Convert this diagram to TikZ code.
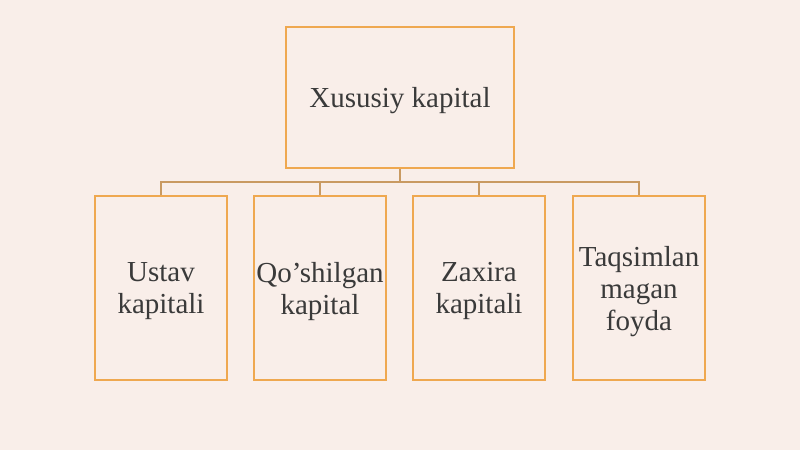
\documentclass[tikz,border=0pt]{standalone}
\usepackage{fontspec}
\setmainfont{Liberation Serif}
\definecolor{bg}{HTML}{F9EEE9}
\definecolor{boxc}{HTML}{EFA850}
\definecolor{linec}{HTML}{C99A62}
\definecolor{txt}{HTML}{3A3A3A}
\tikzset{
  box/.style={draw=boxc, line width=2pt, fill=bg, text=txt, align=center,
    font=\fontsize{29}{32}\selectfont, inner sep=0pt, text depth=0pt},
  topbox/.style={box, minimum width=228pt, minimum height=141pt},
  childbox/.style={box, minimum width=132pt, minimum height=184pt},
  conn/.style={draw=linec, line width=1.8pt}
}
\begin{document}
\begin{tikzpicture}[x=1pt,y=-1pt]
\fill[bg] (0,0) rectangle (800,450);
\useasboundingbox (0,0) rectangle (800,450);
\node[topbox] (top) at (400,97.5) {Xususiy kapital};
\node[childbox] (c1) at (161,288) {Ustav\\kapitali};
\node[childbox] (c2) at (320,288) {Qo’shilgan\\kapital};
\node[childbox] (c3) at (479,288) {Zaxira\\kapitali};
\node[childbox] (c4) at (639,288) {Taqsimlan\\magan\\foyda};
\coordinate (bus) at (400,182);
\draw[conn] (top.south) -- (bus);
\draw[conn] (c1.north) |- (bus);
\draw[conn] (c4.north) |- (bus);
\draw[conn] (c2.north) -- (c2.north |- bus);
\draw[conn] (c3.north) -- (c3.north |- bus);
\end{tikzpicture}
\end{document}
